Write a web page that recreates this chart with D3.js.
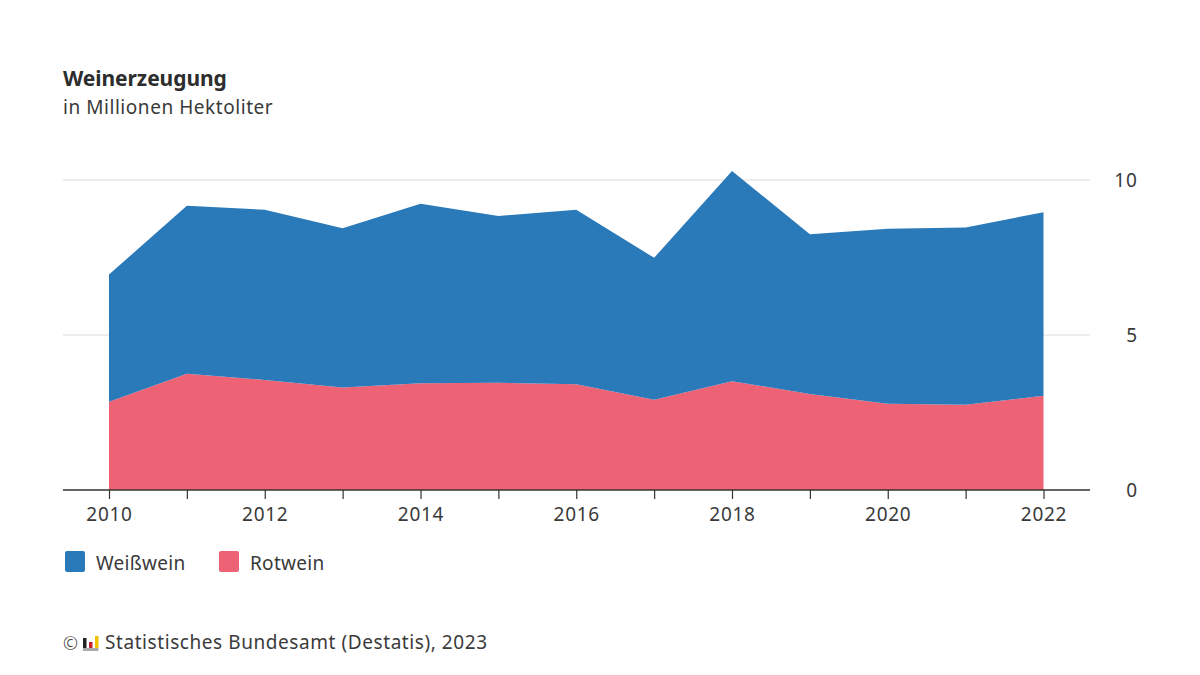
<!DOCTYPE html>
<html>
<head>
<meta charset="utf-8">
<script src="https://cdn.jsdelivr.net/npm/d3@7"></script>
<style>
  html, body { margin: 0; background: #fff; }
  text { font-family: "Noto Sans", sans-serif; fill: #3a3a3a; }
</style>
</head>
<body>
<svg id="chart" width="1200" height="675"></svg>
<script>
const years = [2010, 2011, 2012, 2013, 2014, 2015, 2016, 2017, 2018, 2019, 2020, 2021, 2022];
const rotwein = [2.85, 3.75, 3.55, 3.31, 3.44, 3.46, 3.41, 2.91, 3.51, 3.10, 2.78, 2.75, 3.04];
const weisswein = [4.10, 5.42, 5.49, 5.13, 5.79, 5.38, 5.63, 4.58, 6.78, 5.15, 5.65, 5.72, 5.92];
const yTicks = [0, 5, 10];
const xLabels = [2010, 2012, 2014, 2016, 2018, 2020, 2022];
const seriesNames = ["Weißwein", "Rotwein"];
const seriesColors = ["#2a79b9", "#ee6276"];

const svg = d3.select("#chart");

const x = d3.scaleLinear().domain([2010, 2022]).range([109, 1043.5]);
const y = d3.scaleLinear().domain([0, 10]).range([490, 180]);

// Titel
svg.append("text").attr("x", 63).attr("y", 86)
   .style("font-size", "21px").style("font-weight", 700).style("fill", "#2d2d2d")
   .style("letter-spacing", "-0.07px").text("Weinerzeugung");
svg.append("text").attr("x", 63).attr("y", 114)
   .style("font-size", "19px")
   .style("letter-spacing", "0.55px").text("in Millionen Hektoliter");

// Gridlines
svg.selectAll("line.grid")
   .data(yTicks.filter(d => d > 0))
   .enter()
   .append("line")
   .classed("grid", true)
   .attr("x1", 63).attr("x2", 1090)
   .attr("y1", d => y(d)).attr("y2", d => y(d))
   .attr("stroke", "#dcdcdc").attr("stroke-width", 1);

// Flaechen
const table = years.map((d, i) => ({ year: d, Rotwein: rotwein[i], "Weißwein": weisswein[i] }));
const stacked = d3.stack().keys(["Rotwein", "Weißwein"])(table);
const area = d3.area()
   .x(d => x(d.data.year))
   .y0(d => y(d[0]))
   .y1(d => y(d[1]));

svg.selectAll("path.area")
   .data(stacked)
   .enter()
   .append("path")
   .classed("area", true)
   .attr("d", area)
   .attr("fill", d => seriesColors[seriesNames.indexOf(d.key)]);

// x axis
const xAxis = d3.axisBottom(x)
   .tickValues(years)
   .tickSize(9)
   .tickPadding(6)
   .tickFormat(d => xLabels.includes(d) ? d : "");
const gx = svg.append("g").attr("transform", "translate(0,490)").call(xAxis);
gx.select(".domain").remove();
gx.selectAll("line").attr("stroke", "#333").attr("stroke-width", 1.2);
gx.selectAll("text").style("font-size", "19px")
   .style("letter-spacing", "0.7px").attr("dy", "0.85em");
gx.append("line").attr("x1", 63).attr("x2", 1090)
   .attr("stroke", "#333").attr("stroke-width", 1.5);

// y labels
const yAxis = d3.axisRight(y).tickValues(yTicks).tickSize(0).tickPadding(0);
const gy = svg.append("g").attr("transform", "translate(1138,0)").call(yAxis);
gy.select(".domain").remove();
gy.selectAll("text").attr("text-anchor", "end").style("font-size", "19px")
   .style("letter-spacing", "1px");

// Legende
const legendX = [65, 219];
const legend = svg.selectAll("g.legend")
   .data(seriesNames)
   .enter()
   .append("g")
   .classed("legend", true)
   .attr("transform", (d, i) => `translate(${legendX[i]},551)`);
legend.append("rect")
   .attr("width", 20).attr("height", 21).attr("rx", 2)
   .attr("fill", (d, i) => seriesColors[i]);
legend.append("text")
   .attr("x", 31).attr("y", 19)
   .style("font-size", "19px")
   .style("letter-spacing", "0.3px")
   .text(d => d);

// Quelle
svg.append("text").attr("x", 63).attr("y", 650)
   .style("font-size", "18px").style("font-weight", 300).text("©");
const logoBars = [[83, 10, "#222"], [89, 6, "#c8202f"], [95, 12, "#f2c200"]];
svg.selectAll("rect.logo")
   .data(logoBars)
   .enter()
   .append("rect")
   .classed("logo", true)
   .attr("x", d => d[0]).attr("y", d => 648 - d[1])
   .attr("width", 3.5).attr("height", d => d[1])
   .attr("fill", d => d[2]);
svg.append("rect").attr("x", 83).attr("y", 648).attr("width", 15.5).attr("height", 3).attr("fill", "#aaa");
svg.append("text").attr("x", 105).attr("y", 649)
   .style("font-size", "19px")
   .style("letter-spacing", "0.57px").text("Statistisches Bundesamt (Destatis), 2023");
</script>
</body>
</html>
